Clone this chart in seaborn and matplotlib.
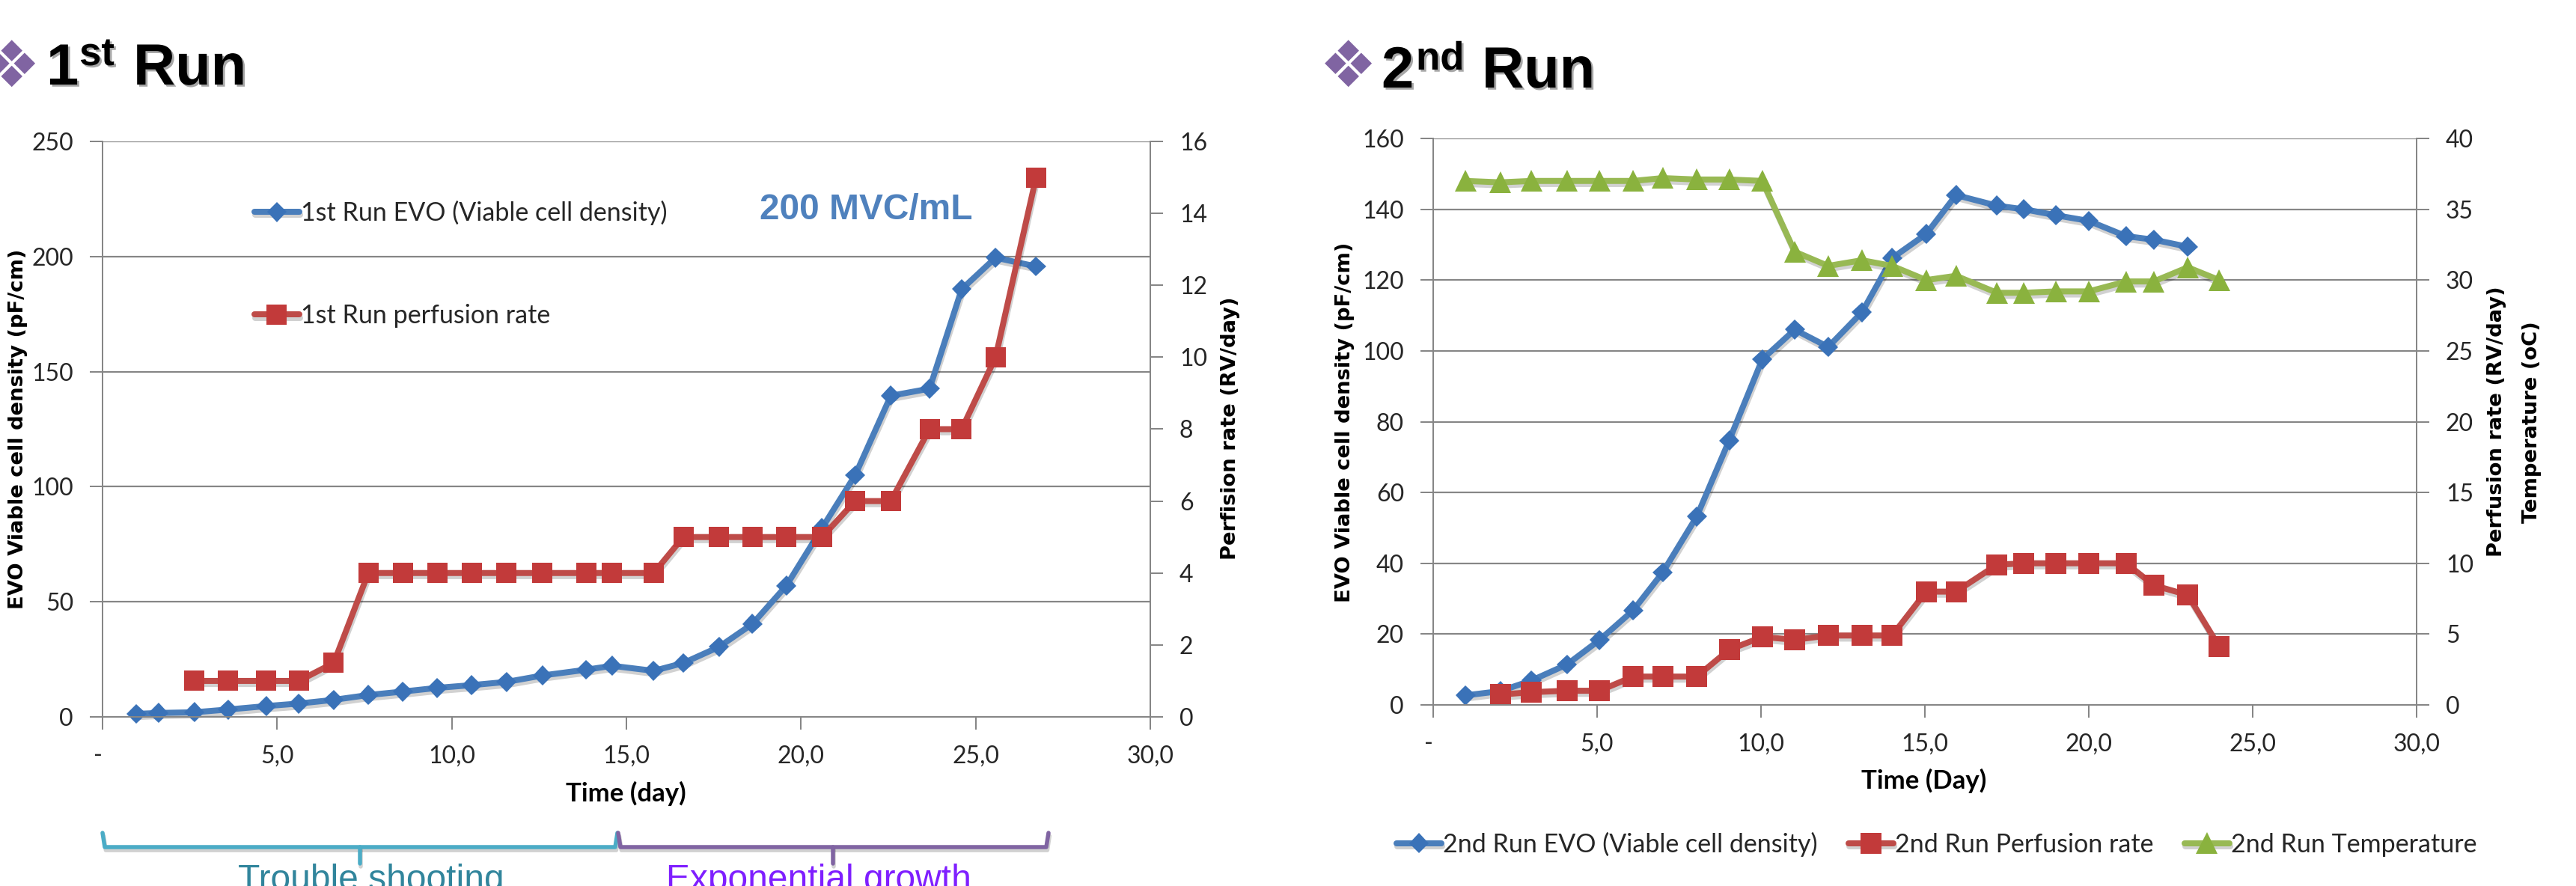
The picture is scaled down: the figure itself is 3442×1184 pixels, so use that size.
import matplotlib
matplotlib.use('Agg')
import matplotlib.pyplot as plt
import matplotlib.patheffects as pe
import seaborn as sns

W, H = 3442, 1184

# 1st run
run1_day = [0.97, 1.6, 2.63, 3.59, 4.69, 5.62, 6.62, 7.61, 8.6, 9.58, 10.57, 11.57, 12.6, 13.85,
            14.59, 15.78, 16.63, 17.65, 18.61, 19.58, 20.6, 21.55, 22.57, 23.68, 24.6, 25.57, 26.73]
run1_evo = [1.3, 1.7, 2, 3.2, 4.7, 5.8, 7.4, 9.5, 11, 12.6, 13.8, 15.2, 18, 20.5,
            22.2, 20, 23.4, 30.4, 40.4, 57, 82, 105, 139.5, 142.6, 185.8, 199.5, 195.7]
run1_perf_day = run1_day[2:]
run1_perf = [1, 1, 1, 1, 1.5, 4, 4, 4, 4, 4, 4, 4, 4, 4, 5, 5, 5, 5, 5, 6, 6, 8, 8, 10, 15]

# 2nd run
run2_day = [0.99, 2.05, 3.0, 4.08, 5.07, 6.1, 7.0, 8.04, 9.03, 10.04, 11.03, 12.05, 13.08, 14.0,
            15.04, 15.95, 17.2, 18.02, 19.0, 20.0, 21.14, 21.98, 23.02, 23.98]
run2_evo = [2.7, 3.9, 6.9, 11.4, 18.3, 26.7, 37.4, 53.2, 74.7, 97.6, 106, 101.1, 110.9, 126.2,
            133, 144, 141, 140, 138.3, 136.7, 132.4, 131.4, 129.4]
run2_perf = [0.73, 0.9, 1, 1, 2, 2, 2, 3.9, 4.8, 4.6, 4.9, 4.9, 4.9, 8, 8, 9.9, 10, 10, 10, 10, 8.45, 7.76, 4.1]
run2_temp = [37, 36.9, 37, 37, 37, 37, 37.2, 37.1, 37.1, 37, 32, 31, 31.4, 31, 30, 30.3,
             29.1, 29.1, 29.2, 29.2, 29.9, 29.9, 30.9, 30]

x_ticks = [0, 5, 10, 15, 20, 25, 30]
x_tick_labels = ['-', '5,0', '10,0', '15,0', '20,0', '25,0', '30,0']
run1_left_ticks = [0, 50, 100, 150, 200, 250]
run1_right_ticks = [0, 2, 4, 6, 8, 10, 12, 14, 16]
run2_left_ticks = [0, 20, 40, 60, 80, 100, 120, 140, 160]
run2_right_ticks = [0, 5, 10, 15, 20, 25, 30, 35, 40]

BLUE = '#4A7EBB'
BLUE_M = '#3A72B8'
RED = '#BE4B48'
RED_M = '#C23A3A'
GREEN = '#98B954'
GREEN_M = '#8AB23E'
AXIS = '#868686'
PURPLE = '#8064A2'
TEAL = '#4BACC6'

sns.set_style('white')
plt.rcParams['font.family'] = ['Lato', 'DejaVu Sans']
PX = 0.72  # points per pixel at dpi 100

fig = plt.figure(figsize=(W / 100, H / 100), dpi=100, facecolor='white')


def axes_px(left, top, right, bottom):
    return fig.add_axes([left / W, 1 - bottom / H, (right - left) / W, (bottom - top) / H])


def ftext(x, y, s, **kw):
    return fig.text(x / W, 1 - y / H, s, **kw)


shadow = [pe.SimpleLineShadow(offset=(1, -3), shadow_color='k', alpha=0.18), pe.Normal()]


def draw(ax, x, y, color, mcolor, marker, ms, label):
    n = min(len(x), len(y))
    sns.lineplot(x=x[:n], y=y[:n], ax=ax, color=color, marker=marker, markersize=ms * PX,
                 markerfacecolor=mcolor, markeredgecolor=mcolor, markeredgewidth=0,
                 linewidth=8 * PX, sort=False, errorbar=None, legend=False, label=label,
                 clip_on=False, path_effects=shadow, solid_joinstyle='round')


def style_axes(ax, ax2, yticks, y2ticks):
    ax.set_xlim(0, 30)
    ax.set_ylim(yticks[0], yticks[-1])
    ax2.set_ylim(y2ticks[0], y2ticks[-1])
    ax.set_xticks(x_ticks)
    ax.set_xticklabels(x_tick_labels)
    ax.get_xticklabels()[0].set_ha('right')
    ax.set_yticks(yticks)
    ax2.set_yticks(y2ticks)
    ax.grid(axis='y', color=AXIS, linewidth=2.2 * PX)
    ax.grid(axis='x', visible=False)
    ax2.grid(False)
    ax.set_xlabel('')
    ax.set_ylabel('')
    ax2.set_ylabel('')
    for a in (ax, ax2):
        for name, sp in a.spines.items():
            sp.set_color(AXIS)
            sp.set_linewidth(2 * PX)
            sp.set_visible(name != 'top')
        a.patch.set_alpha(0)
    ax.tick_params(axis='both', length=12, width=2 * PX, color=AXIS, labelsize=23, pad=16, left=True, bottom=True)
    ax.tick_params(axis='x', pad=15)
    ax2.tick_params(axis='y', length=12, width=2 * PX, color=AXIS, labelsize=23, pad=16, right=True)


# 1st run chart
ax1 = axes_px(137, 189, 1537, 958)
ax1b = ax1.twinx()
draw(ax1, run1_day, run1_evo, BLUE, BLUE_M, 'D', 19, '1st Run EVO (Viable cell density)')
draw(ax1b, run1_perf_day, run1_perf, RED, RED_M, 's', 27, '1st Run perfusion rate')
style_axes(ax1, ax1b, run1_left_ticks, run1_right_ticks)

# 2nd run chart
ax2 = axes_px(1915, 185, 3229, 942)
ax2b = ax2.twinx()
draw(ax2, run2_day, run2_evo, BLUE, BLUE_M, 'D', 19, '2nd Run EVO (Viable cell density)')
draw(ax2b, run2_day[1:], run2_perf, RED, RED_M, 's', 28, '2nd Run Perfusion rate')
draw(ax2b, run2_day, run2_temp, GREEN, GREEN_M, '^', 29, '2nd Run Temperature')
style_axes(ax2, ax2b, run2_left_ticks, run2_right_ticks)

# legends
h1, l1 = ax1.get_legend_handles_labels()
h1b, l1b = ax1b.get_legend_handles_labels()
fig.legend(h1 + h1b, l1 + l1b, loc='upper left', bbox_to_anchor=(340 / W, 1 - 268 / H), frameon=False,
           fontsize=24.5, handlelength=1.76, handletextpad=0.06, labelspacing=3.09, borderaxespad=0, borderpad=0)

h2, l2 = ax2.get_legend_handles_labels()
h2b, l2b = ax2b.get_legend_handles_labels()
fig.legend(h2 + h2b, l2 + l2b, loc='center left', bbox_to_anchor=(1866 / W, 1 - 1128 / H), ncol=3, frameon=False,
           fontsize=24.5, handlelength=1.76, handletextpad=0.06, columnspacing=1.22, borderaxespad=0, borderpad=0)

# axis titles
vlabel = dict(rotation=90, ha='center', va='center', family='DejaVu Sans', fontweight='bold', fontsize=19.7, color='black')
hlabel = dict(ha='center', va='center', fontweight='bold', fontsize=25, color='black')
ftext(24, 573, 'EVO Viable cell density (pF/cm)', **vlabel)
ftext(1644, 572, 'Perfision rate (RV/day)', **vlabel)
ftext(836, 1060, 'Time (day)', **hlabel)
ftext(1797, 564, 'EVO Viable cell density (pF/cm)', **vlabel)
ftext(3336, 563, 'Perfusion rate (RV/day)', **vlabel)
ftext(3383, 564, 'Temperature (oC)', **vlabel)
ftext(2571, 1043, 'Time (Day)', **hlabel)

# slide headings
head = dict(family='Liberation Sans', fontweight='bold', color='black', va='baseline',
            path_effects=[pe.withSimplePatchShadow(offset=(2, -2), shadow_rgbFace='k', alpha=0.35)])
ftext(62, 113, '1', fontsize=56, **head)
ftext(106, 87, 'st', fontsize=38, **head)
ftext(178, 113, 'Run', fontsize=56, **head)
ftext(1846, 117, '2', fontsize=56, **head)
ftext(1892, 93, 'nd', fontsize=38, **head)
ftext(1980, 117, 'Run', fontsize=56, **head)
bullet = dict(family='DejaVu Sans', color=PURPLE, ha='center', va='center', fontsize=62)
ftext(15, 92, '\u2756', **bullet)
ftext(1801, 92, '\u2756', **bullet)

ftext(1015, 293, '200 MVC/mL', family='Liberation Sans', fontweight='bold', fontsize=34.5, color='#4F81BD', va='baseline')

# phase brackets under the 1st run chart
over = fig.add_axes([0, 0, 1, 1], facecolor='none')
over.set_xlim(0, W)
over.set_ylim(H, 0)
over.axis('off')
for (x0, x1, xm, col) in [(137, 825, 481, TEAL), (826, 1401, 1113, PURPLE)]:
    over.plot([x0, x0 + 3, x1 - 3, x1], [1113, 1132, 1132, 1113], color=col, lw=5.5 * PX,
              solid_joinstyle='round', path_effects=shadow)
    over.plot([xm, xm], [1132, 1154], color=col, lw=5.5 * PX, path_effects=shadow)
ftext(318, 1189, 'Trouble shooting', family='Liberation Sans', fontsize=34.5, color='#31859C', va='baseline')
ftext(890, 1189, 'Exponential growth', family='Liberation Sans', fontsize=34.5, color='#7F1FFF', va='baseline')

fig.savefig('out.png', dpi=100, facecolor='white')
